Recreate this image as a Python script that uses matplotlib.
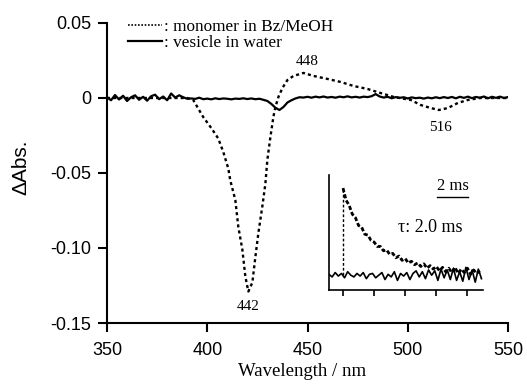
"""Transient absorption spectra: monomer vs. vesicle, with decay inset."""

import numpy as np
import matplotlib

matplotlib.use("Agg")
import matplotlib.pyplot as plt  # noqa: E402
from matplotlib.lines import Line2D  # noqa: E402

SANS = "Liberation Sans"
SERIF = "Liberation Serif"

# dotted trace: monomer in Bz/MeOH (nm, dAbs)
monomer_nm = [350, 370, 385, 390, 393, 398, 402, 405.5, 408, 410.5, 411.5, 414,
              415.5, 417.5, 419, 420.5, 422.5, 424, 425.5, 427.5, 429, 430,
              431.5, 433, 434, 435.5, 437.5, 440, 443, 448, 453, 460, 466.5,
              473, 480, 486.5, 493, 501.5, 506.5, 511.5, 515.5, 520, 525, 530,
              536, 550]
monomer_dabs = [0.0, 0.0, 0.0, 0.0, -0.0013, -0.0127, -0.020, -0.027, -0.036,
                -0.047, -0.055, -0.068, -0.086, -0.101, -0.119, -0.129, -0.123,
                -0.106, -0.090, -0.072, -0.057, -0.041, -0.026, -0.0125, -0.006,
                0.0007, 0.0067, 0.012, 0.0147, 0.0167, 0.0147, 0.0127, 0.0107,
                0.008, 0.006, 0.0033, 0.0007, -0.0013, -0.0047, -0.0067, -0.008,
                -0.0067, -0.0033, -0.0013, 0.0, 0.0]

# solid trace: vesicle in water, sampled every 2 nm from 350 to 550
vesicle_nm = np.arange(350, 551, 2)
vesicle_dabs = np.array([
    0.5, -1.5, 2.0, -1.0, 1.5, -2.0, 0.5, 1.8, -1.2, 0.8,
    -1.8, 1.2, 2.2, -0.8, 1.0, -1.5, 3.0, 0.3, 1.8, 0.5,
    -0.5, -0.3, -0.6, 0.2, -0.8, -0.4, -0.9, -0.2, -0.7, -0.3,
    -0.5, -0.9, -0.4, -0.6, -0.2, -0.7, -0.3, -0.8, -0.5, -1.2,
    -2.0, -4.0, -6.5, -8.0, -6.0, -3.0, -1.5, -0.3, 0.5, 0.3,
    0.8, 0.2, 0.9, 0.4, 1.0, 0.3, 0.7, 0.2, 0.9, 0.5,
    1.1, 0.4, 0.8, 0.3, 0.9, 0.6, 1.2, 2.6, 1.0, 0.3,
    0.8, -0.2, 0.6, 0.1, 0.5, -0.3, 0.4, -0.1, 0.2, -0.4,
    0.3, -0.2, 0.5, -0.1, 0.6, 0.0, 0.7, -0.2, 0.8, 0.1,
    0.9, -0.1, 0.7, 0.2, 1.0, -0.2, 0.8, 0.1, 0.9, 0.0,
    0.6,
]) * 1e-3

# inset: normalised decay (ms) and the flat vesicle trace
decay_ms = np.arange(0, 8.81, 0.2)
decay_sig = [1.0, 0.86, 0.80, 0.70, 0.66, 0.57, 0.55, 0.47, 0.46, 0.40,
             0.38, 0.33, 0.33, 0.28, 0.29, 0.24, 0.25, 0.20, 0.22, 0.17,
             0.19, 0.14, 0.16, 0.12, 0.14, 0.10, 0.13, 0.08, 0.11, 0.07,
             0.10, 0.05, 0.09, 0.04, 0.08, 0.03, 0.09, 0.02, 0.07, 0.03,
             0.08, 0.01, 0.06, 0.02, 0.05]
flat_ms = np.arange(-0.9, 9.01, 0.2)
flat_sig = [0.01, -0.02, 0.03, -0.01, 0.02, -0.03, 0.04, 0.0, -0.02, 0.02,
            -0.01, 0.03, -0.04, 0.01, 0.02, -0.03, 0.0, 0.03, -0.05, 0.01,
            -0.02, 0.04, -0.06, 0.02, -0.01, 0.03, -0.05, 0.02, 0.05, -0.02,
            0.04, -0.04, 0.06, 0.0, 0.05, -0.06, 0.07, -0.03, 0.06, -0.05,
            0.08, -0.06, 0.04, -0.07, 0.09, -0.05, 0.06, -0.08, 0.07, -0.04]

fig = plt.figure(figsize=(5.27, 3.87), dpi=100)
ax = fig.add_axes([107 / 527, 1 - 323 / 387, 401 / 527, 300 / 387])

ax.plot(vesicle_nm, vesicle_dabs, color="black", lw=1.6, solid_joinstyle="round")
ax.plot(monomer_nm, monomer_dabs, color="black", lw=1.7, ls=(0, (1.3, 1.3)))

ax.set_xlim(350, 550)
ax.set_ylim(-0.15, 0.05)
ax.set_xticks([350, 400, 450, 500, 550])
ax.set_yticks([0.05, 0, -0.05, -0.10, -0.15])
ax.set_yticklabels(["0.05", "0", "-0.05", "-0.10", "-0.15"])
for side in ("top", "right"):
    ax.spines[side].set_visible(False)
for side in ("left", "bottom"):
    ax.spines[side].set_linewidth(1.5)
ax.tick_params(direction="out", length=6.5, width=1.5, labelsize=13)
ax.tick_params(axis="y", pad=5)
ax.tick_params(axis="x", pad=7)
for lab in ax.get_xticklabels() + ax.get_yticklabels():
    lab.set_family(SANS)

ax.set_xlabel("Wavelength / nm", family=SERIF, fontsize=13.5)
ax.xaxis.set_label_coords(0.486, -0.133)
ax.set_ylabel("ΔAbs.", family=SANS, fontsize=15)
ax.yaxis.set_label_coords(-0.19, 0.52)

# peak labels
for txt, x, y in [("448", 450, 0.024), ("516", 516.5, -0.020), ("442", 420.5, -0.139)]:
    ax.text(x, y, txt, family=SERIF, fontsize=11, ha="center", va="center")

handles = [Line2D([], [], color="black", lw=1.2, ls=(0, (1.0, 1.0))),
           Line2D([], [], color="black", lw=1.6)]
ax.legend(handles, [": monomer in Bz/MeOH", ": vesicle in water"],
          loc="upper left", bbox_to_anchor=(0.052, 1.015), frameon=False,
          borderpad=0, borderaxespad=0, handlelength=2.0, handletextpad=0.1,
          labelspacing=0.0, prop={"family": SERIF, "size": 12.4})

# inset
ins = fig.add_axes([329 / 527, 1 - 290 / 387, 154 / 527, 115 / 387])
ins.plot(flat_ms, flat_sig, color="black", lw=1.2)
ins.plot(decay_ms, decay_sig, color="black", lw=2.0, ls=(0, (1.5, 0.8)))
ins.plot([0, 0], [0, 1.0], color="black", lw=1.0, ls=(0, (2, 1.5)))
ins.set_xlim(-0.9, 9.0)
ins.set_ylim(-0.17, 1.15)
ins.set_xticks([0, 2, 4, 6, 8])
ins.set_yticks([])
ins.tick_params(axis="x", direction="out", length=4, width=1.2, labelbottom=False)
for side in ("top", "right"):
    ins.spines[side].set_visible(False)
for side in ("left", "bottom"):
    ins.spines[side].set_linewidth(1.2)
ins.patch.set_alpha(0)

ins.plot([6.05, 8.05], [0.90, 0.90], color="black", lw=1.0)
ins.text(7.05, 0.93, "2 ms", family=SERIF, fontsize=12, ha="center", va="bottom")
ins.text(5.6, 0.55, "τ: 2.0 ms", family=SERIF, fontsize=13, ha="center", va="center")

fig.savefig("out.png", dpi=100)
